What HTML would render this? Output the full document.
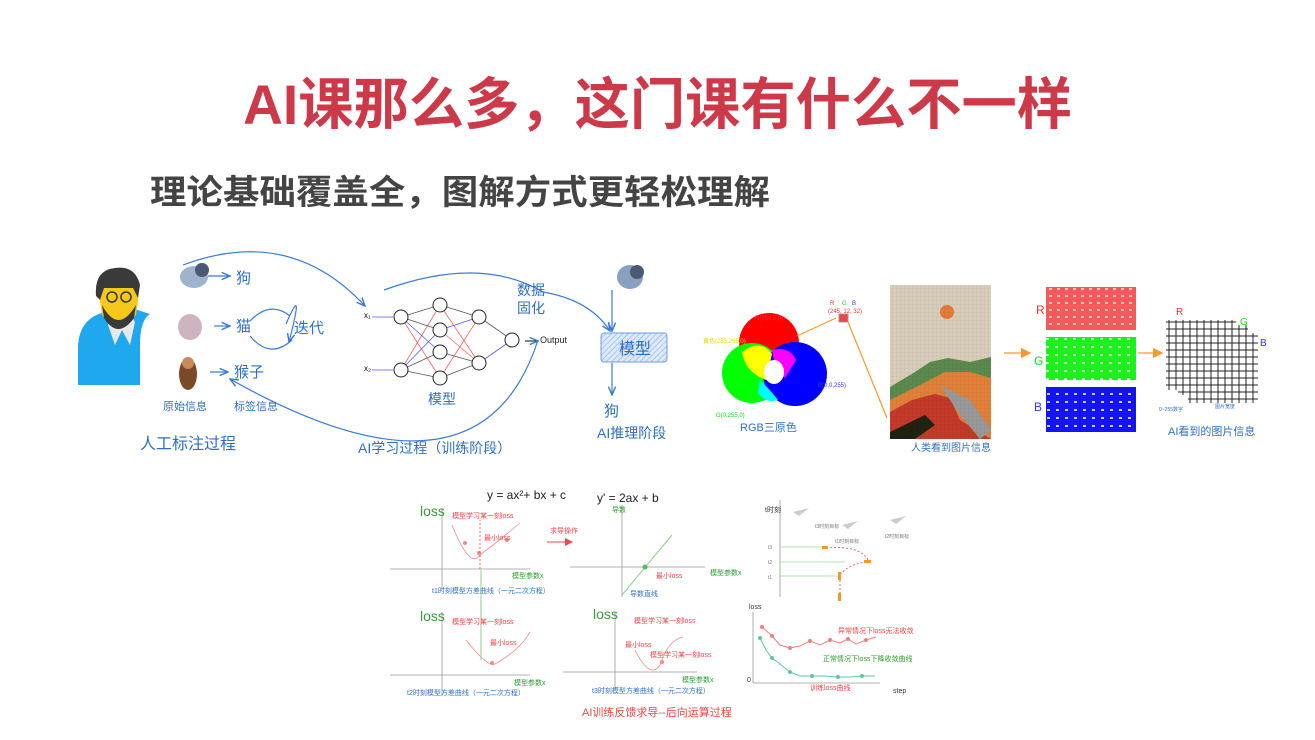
<!DOCTYPE html>
<html><head><meta charset="utf-8"><style>
html,body{margin:0;padding:0;background:#fff;}
svg{display:block;}
text{font-family:"Liberation Sans","Noto Sans CJK SC",sans-serif;}
</style></head><body>
<svg width="1315" height="740" viewBox="0 0 1315 740" xmlns="http://www.w3.org/2000/svg">
<defs>
<marker id="ab" markerWidth="8" markerHeight="8" refX="7" refY="4" orient="auto"><path d="M0,1 L7,4 L0,7" fill="none" stroke="#3a7bd5" stroke-width="1.2"/></marker>
<marker id="ao" markerWidth="8" markerHeight="8" refX="7" refY="4" orient="auto"><path d="M0,0 L8,4 L0,8z" fill="#f39a2c"/></marker>
<marker id="ar" markerWidth="8" markerHeight="8" refX="7" refY="4" orient="auto"><path d="M0,0 L8,4 L0,8z" fill="#e84a4a"/></marker>
<pattern id="pr" width="8" height="7" patternUnits="userSpaceOnUse"><rect width="8" height="7" fill="#f45a5a"/><rect x="1" y="1" width="3" height="2" fill="#fbb"/></pattern>
<pattern id="pg" width="9" height="8" patternUnits="userSpaceOnUse"><rect width="9" height="8" fill="#1ef01e"/><rect x="2" y="2" width="3" height="2" fill="#bfb"/></pattern>
<pattern id="pb" width="9" height="8" patternUnits="userSpaceOnUse"><rect width="9" height="8" fill="#1414f0"/><rect x="3" y="1" width="3" height="2" fill="#ccf"/></pattern>
<pattern id="grid" width="4" height="4" patternUnits="userSpaceOnUse"><path d="M4,0 L0,0 0,4" fill="none" stroke="rgba(0,0,0,0.12)" stroke-width="0.6"/></pattern>
<pattern id="g2" width="7" height="7" patternUnits="userSpaceOnUse"><rect width="7" height="7" fill="none" stroke="#222" stroke-width="1"/></pattern>
<pattern id="hatch" width="4" height="4" patternUnits="userSpaceOnUse" patternTransform="rotate(45)"><rect width="4" height="4" fill="#dce8fb"/><line x1="0" y1="0" x2="0" y2="4" stroke="#7da6e6" stroke-width="1"/></pattern>
</defs>

<text x="243" y="124" font-size="56" font-weight="bold" fill="#cc3a4a" textLength="829" lengthAdjust="spacingAndGlyphs">AI课那么多，这门课有什么不一样</text>
<text x="150" y="204" font-size="34" font-weight="bold" fill="#444" textLength="620" lengthAdjust="spacingAndGlyphs">理论基础覆盖全，图解方式更轻松理解</text>

<g>
<path d="M78,385 L78,345 Q80,318 105,312 L125,306 L150,314 Q140,320 140,345 L140,385z" fill="#1fa8ee"/>
<path d="M115,312 L108,325 L115,345 L122,330 L130,345 L135,322 L128,310z" fill="#e8e8e8"/>
<path d="M100,300 Q98,280 108,275 L132,273 Q140,280 138,300 L136,315 Q118,335 102,315z" fill="#f5c81a"/>
<path d="M96,296 Q94,270 115,268 Q135,265 140,285 L138,298 L133,288 L104,288 L100,300z" fill="#3a3a3a"/>
<path d="M102,305 Q118,335 136,305 L134,318 Q118,340 104,318z" fill="#3a3a3a"/>
<circle cx="112" cy="297" r="5" fill="none" stroke="#333" stroke-width="1.5"/><circle cx="126" cy="297" r="5" fill="none" stroke="#333" stroke-width="1.5"/>
</g>
<ellipse cx="194" cy="277" rx="14" ry="11" fill="#a0b3cc"/><circle cx="202" cy="270" r="7" fill="#4a5a72"/>
<ellipse cx="190" cy="327" rx="12" ry="13" fill="#cdb4c0"/>
<ellipse cx="188" cy="374" rx="9" ry="16" fill="#7a4a28"/><circle cx="188" cy="363" r="6" fill="#c98a5a"/>
<g fill="#2f6fc2" font-size="15">
<text x="236" y="283">狗</text><text x="236" y="331">猫</text><text x="234" y="377">猴子</text>
</g>
<g stroke="#3a7bd5" stroke-width="1.2" fill="none" marker-end="url(#ab)">
<line x1="208" y1="276" x2="230" y2="276"/><line x1="214" y1="326" x2="230" y2="326"/><line x1="210" y1="372" x2="228" y2="372"/>
<path d="M183,265 Q290,225 365,306"/>
<path d="M538,340 Q480,520 230,379"/>
<path d="M384,290 Q480,255 543,292 Q590,300 610,331"/>
<path d="M286,324 Q305,280 289,342"/>
<path d="M612,290 L612,331"/><path d="M612,363 L612,395"/>
<path d="M525,341 L538,341" stroke="#333"/>
</g>
<path d="M250,321 Q270,300 290,316 M250,336 Q270,360 292,340" fill="none" stroke="#3a7bd5" stroke-width="1.2"/>
<text x="294" y="333" font-size="15" fill="#2f6fc2">迭代</text>
<g fill="#2f6fc2" font-size="11"><text x="163" y="410">原始信息</text><text x="234" y="410">标签信息</text></g>
<text x="140" y="449" font-size="16" fill="#2f6fc2">人工标注过程</text>
<text x="358" y="453" font-size="14" fill="#2f6fc2">AI学习过程（训练阶段）</text>
<text x="428" y="404" font-size="14" fill="#2f6fc2">模型</text>
<text x="517" y="295" font-size="14" fill="#2f6fc2">数据</text><text x="517" y="313" font-size="14" fill="#2f6fc2">固化</text>
<g stroke-width="0.8">
<g stroke="#e66"><line x1="401" y1="317" x2="440" y2="378"/><line x1="401" y1="370" x2="440" y2="305"/><line x1="440" y1="305" x2="479" y2="363"/><line x1="440" y1="378" x2="479" y2="317"/><line x1="440" y1="330" x2="479" y2="363"/></g>
<g stroke="#555"><line x1="401" y1="317" x2="440" y2="305"/><line x1="401" y1="317" x2="440" y2="330"/><line x1="401" y1="370" x2="440" y2="378"/><line x1="401" y1="370" x2="440" y2="352"/><line x1="440" y1="305" x2="479" y2="317"/><line x1="440" y1="352" x2="479" y2="363"/><line x1="479" y1="317" x2="512" y2="340"/><line x1="440" y1="378" x2="479" y2="363"/></g>
<g stroke="#55f"><line x1="401" y1="317" x2="440" y2="352"/><line x1="401" y1="370" x2="440" y2="330"/><line x1="440" y1="330" x2="479" y2="317"/><line x1="479" y1="363" x2="512" y2="340"/></g>
<line x1="372" y1="317" x2="393" y2="317" stroke="#55f"/><line x1="372" y1="370" x2="393" y2="370" stroke="#55f"/>
</g>
<g fill="#fff" stroke="#222" stroke-width="1"><circle cx="401" cy="317" r="7"/><circle cx="401" cy="370" r="7"/><circle cx="440" cy="305" r="7"/><circle cx="440" cy="330" r="7"/><circle cx="440" cy="352" r="7"/><circle cx="440" cy="378" r="7"/><circle cx="479" cy="317" r="7"/><circle cx="479" cy="363" r="7"/><circle cx="512" cy="340" r="7"/></g>
<text x="364" y="318" font-size="8">x₁</text><text x="364" y="371" font-size="8">x₂</text>
<text x="540" y="343" font-size="9" fill="#222">Output</text>
<ellipse cx="630" cy="277" rx="13" ry="12" fill="#8aa0c0"/><circle cx="637" cy="272" r="7" fill="#4a5a72"/>
<rect x="601" y="333" width="66" height="29" rx="3" fill="url(#hatch)" stroke="#6d9be0"/>
<text x="619" y="354" font-size="16" fill="#2f6fc2">模型</text>
<text x="604" y="416" font-size="15" fill="#2f6fc2">狗</text>
<text x="597" y="438" font-size="14" fill="#2f6fc2">AI推理阶段</text>

<circle cx="769" cy="343" r="30" fill="#f00"/>
<circle cx="752" cy="373" r="30" fill="#0f0"/>
<circle cx="795" cy="374" r="32" fill="#00f"/>
<path d="M742,352 Q760,338 772,354 L766,380 Q745,372 742,352z" fill="#ff0"/>
<path d="M772,350 Q790,346 796,360 L785,378 Q775,372 772,350z" fill="#f0f"/>
<path d="M760,380 Q772,392 778,400 Q766,404 758,393z" fill="#0ff"/>
<ellipse cx="774" cy="372" rx="10" ry="12" fill="#fff"/>
<g font-size="6"><text x="755" y="320" fill="#e33">R(255,0,0)</text><text x="703" y="343" fill="#dd0">黄色(255,255,0)</text><text x="818" y="387" fill="#33f">B(0,0,255)</text><text x="716" y="417" fill="#2c2">G(0,255,0)</text></g>
<text x="740" y="431" font-size="11" fill="#2f6fc2">RGB三原色</text>
<g font-size="6"><text x="830" y="305" fill="#e33">R</text><text x="842" y="305" fill="#2c2">G</text><text x="852" y="305" fill="#33f">B</text><text x="828" y="313" fill="#e33">(245, 12, 32)</text></g>
<rect x="839" y="314" width="9" height="8" fill="#e44" stroke="#999"/>
<g stroke="#f39a2c" stroke-width="1.2"><line x1="797" y1="336" x2="836" y2="318"/><line x1="848" y1="322" x2="887" y2="418"/></g>
<rect x="890" y="285" width="101" height="154" fill="#d8cdb9"/>
<circle cx="947" cy="312" r="7" fill="#e57a3a"/>
<path d="M890,387 L915,372 L930,362 L948,358 L970,362 L991,357 L991,439 L890,439z" fill="#5c8a4e"/>
<path d="M890,400 L920,385 L945,372 L970,372 L991,378 L991,439 L890,439z" fill="#e0813a"/>
<path d="M890,412 L912,400 L935,394 L950,398 L960,420 L991,439 L890,439z" fill="#c43a2a"/>
<path d="M940,385 L970,400 L991,430 L980,439 L960,415z" fill="#999"/>
<path d="M890,439 L890,432 L925,415 L935,425 L915,439z" fill="#221"/>
<rect x="890" y="285" width="101" height="154" fill="url(#grid)"/>
<text x="911" y="451" font-size="10" fill="#2f6fc2">人类看到图片信息</text>
<line x1="1004" y1="353" x2="1030" y2="353" stroke="#f39a2c" stroke-width="1.3" marker-end="url(#ao)"/>
<rect x="1046" y="287" width="90" height="43" fill="url(#pr)"/>
<rect x="1046" y="337" width="90" height="43" fill="url(#pg)"/>
<rect x="1046" y="387" width="90" height="45" fill="url(#pb)"/>
<text x="1036" y="314" font-size="12" fill="#e33">R</text><text x="1034" y="365" font-size="12" fill="#2c2">G</text><text x="1034" y="411" font-size="12" fill="#33f">B</text>
<line x1="1138" y1="353" x2="1162" y2="353" stroke="#f39a2c" stroke-width="1.3" marker-end="url(#ao)"/>
<rect x="1188" y="333" width="70" height="70" fill="url(#g2)"/>
<rect x="1178" y="325" width="70" height="70" fill="url(#g2)"/>
<rect x="1166" y="320" width="70" height="70" fill="url(#g2)"/>
<text x="1176" y="315" font-size="10" fill="#e33">R</text><text x="1240" y="325" font-size="10" fill="#2c2">G</text><text x="1260" y="346" font-size="10" fill="#33f">B</text>
<text x="1159" y="411" font-size="5" fill="#2f6fc2">0~255数字</text><text x="1215" y="408" font-size="5" fill="#2f6fc2">图片宽度</text>
<text x="1168" y="435" font-size="11" fill="#2f6fc2">AI看到的图片信息</text>

<g fill="none" stroke="#999" stroke-width="0.8">
<line x1="390" y1="569" x2="530" y2="569"/><line x1="442" y1="508" x2="442" y2="590"/>
<line x1="390" y1="675" x2="530" y2="675"/><line x1="442" y1="612" x2="442" y2="695"/>
<line x1="570" y1="567" x2="705" y2="567"/><line x1="622" y1="505" x2="622" y2="597"/>
<line x1="563" y1="672" x2="697" y2="672"/><line x1="615" y1="612" x2="615" y2="690"/>
<line x1="780" y1="500" x2="780" y2="597"/><line x1="753" y1="612" x2="753" y2="683"/><line x1="753" y1="683" x2="880" y2="683"/>
</g>
<g fill="none" stroke="#f08a8a" stroke-width="0.8">
<path d="M452,525 Q470,570 480,555 Q500,540 520,523"/>
<path d="M466,640 Q488,668 495,664 Q520,650 530,632"/>
<path d="M635,650 Q650,680 660,665 Q668,640 683,637"/>
</g>
<g fill="#f08a8a"><circle cx="465" cy="543" r="2"/><circle cx="479" cy="553" r="2"/><circle cx="507" cy="540" r="2"/><circle cx="492" cy="663" r="2"/><circle cx="662" cy="662" r="2"/></g>
<line x1="480" y1="569" x2="480" y2="520" stroke="#e44" stroke-dasharray="2,2" stroke-width="0.8"/>
<line x1="622" y1="595" x2="672" y2="535" stroke="#8ccf8c"/>
<line x1="481" y1="570" x2="481" y2="660" stroke="#8ccf8c"/>
<circle cx="645" cy="567" r="2.5" fill="#5b5"/>
<g font-size="7" fill="#e44"><text x="452" y="518">模型学习某一刻loss</text><text x="484" y="540">最小loss</text><text x="452" y="624">模型学习某一刻loss</text><text x="490" y="645">最小loss</text><text x="634" y="623">模型学习某一刻loss</text><text x="625" y="647">最小loss</text><text x="650" y="657">模型学习某一刻loss</text><text x="656" y="578">最小loss</text><text x="550" y="533">求导操作</text></g>
<line x1="547" y1="542" x2="572" y2="542" stroke="#e44" marker-end="url(#ar)"/>
<g font-size="7" fill="#2c9a2c"><text x="512" y="578">模型参数x</text><text x="514" y="685">模型参数x</text><text x="710" y="575">模型参数x</text><text x="682" y="682">模型参数x</text><text x="612" y="512">导数</text></g>
<g font-size="14" fill="#3a9a3a"><text x="420" y="516">loss</text><text x="420" y="621">loss</text><text x="593" y="619">loss</text></g>
<g font-size="7" fill="#2f6fc2"><text x="432" y="593">t1时刻模型方差曲线（一元二次方程）</text><text x="407" y="695">t2时刻模型方差曲线（一元二次方程）</text><text x="592" y="693">t3时刻模型方差曲线（一元二次方程）</text><text x="630" y="596">导数直线</text></g>
<text x="487" y="499" font-size="12" fill="#222">y = ax²+ bx + c</text>
<text x="597" y="502" font-size="12" fill="#222">y' = 2ax + b</text>
<text x="582" y="716" font-size="11" fill="#e44">AI训练反馈求导--后向运算过程</text>
<text x="765" y="512" font-size="7" fill="#333">t时刻</text>
<g stroke="#9d9" stroke-width="0.8"><line x1="780" y1="547" x2="825" y2="547"/><line x1="780" y1="562" x2="845" y2="562"/><line x1="780" y1="576" x2="838" y2="576"/></g>
<path d="M826,548 Q860,545 868,560 M838,578 Q845,565 866,562 M840,580 L840,600" fill="none" stroke="#e44" stroke-dasharray="2,2" stroke-width="0.8"/>
<g fill="#f39a2c"><rect x="822" y="546" width="6" height="3"/><rect x="864" y="560" width="7" height="3"/><rect x="838" y="572" width="3" height="8"/><rect x="838" y="593" width="3" height="8"/></g>
<g font-size="5" fill="#777"><text x="768" y="549">t3</text><text x="768" y="564">t2</text><text x="768" y="579">t1</text><text x="815" y="528">t3时刻目标</text><text x="835" y="543">t1时刻目标</text><text x="885" y="538">t2时刻目标</text></g>
<g fill="#ccc"><path d="M793,512 l16,-4 l-10,8z"/><path d="M842,525 l16,-4 l-10,8z"/><path d="M890,520 l16,-4 l-10,8z"/></g>
<text x="749" y="609" font-size="7" fill="#333">loss</text>
<text x="747" y="682" font-size="7" fill="#333">0</text>
<text x="893" y="693" font-size="7" fill="#333">step</text>
<text x="810" y="690" font-size="7" fill="#e44">训练loss曲线</text>
<polyline points="762,627 772,636 780,645 790,648 800,646 810,641 820,645 830,640 840,643 848,639 856,644 866,640 876,637" fill="none" stroke="#f08080"/>
<polyline points="760,638 766,650 772,658 780,664 790,672 800,676 812,676 825,676 838,677 850,677 862,676 875,676" fill="none" stroke="#5bc9a0"/>
<g fill="#f08080"><circle cx="762" cy="627" r="2"/><circle cx="772" cy="636" r="2"/><circle cx="790" cy="648" r="2"/><circle cx="810" cy="641" r="2"/><circle cx="830" cy="640" r="2"/><circle cx="848" cy="639" r="2"/><circle cx="866" cy="640" r="2"/></g>
<g fill="#5bc9a0"><circle cx="760" cy="638" r="2"/><circle cx="772" cy="658" r="2"/><circle cx="790" cy="672" r="2"/><circle cx="812" cy="676" r="2"/><circle cx="838" cy="677" r="2"/><circle cx="862" cy="676" r="2"/></g>
<g font-size="7"><text x="838" y="633" fill="#e44">异常情况下loss无法收敛</text><text x="823" y="661" fill="#2c9a2c">正常情况下loss下降收敛曲线</text></g>
</svg>
</body></html>
